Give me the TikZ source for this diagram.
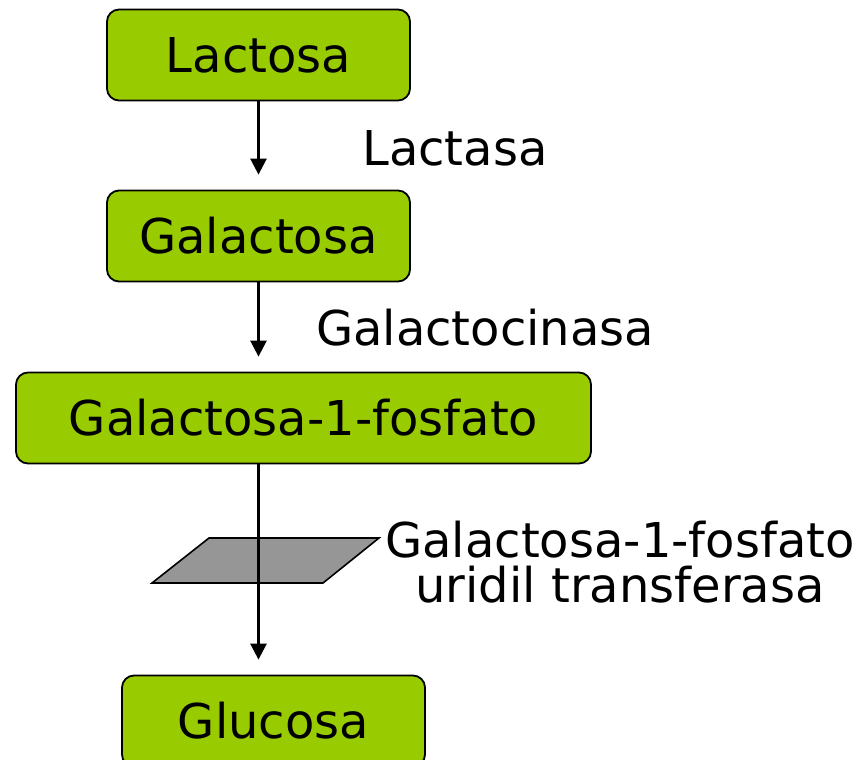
\documentclass[tikz,border=0pt]{standalone}
\usepackage{fontspec}
\setmainfont{DejaVu Sans}
\usepackage{tikz}
\usetikzlibrary{arrows.meta}
\definecolor{sugar}{HTML}{99CC00}
\definecolor{membrane}{HTML}{969696}

\begin{document}
\begin{tikzpicture}[x=0.5pt,y=-0.5pt,
  sugarbox/.style={rectangle,draw=black,line width=0.9pt,fill=sugar,rounded corners=6pt,
    minimum height=45.5pt,font=\fontsize{24}{22.5}\selectfont},
  enzyme/.style={font=\fontsize{24}{22.5}\selectfont,align=center},
  reaction/.style={-{Triangle[length=8pt,width=8pt]},line width=1.3pt,shorten >=7.5pt}]
\useasboundingbox (0,0) rectangle (863,760);
\node [sugarbox,minimum width=151.5pt] (lac) at (258.5,55) {Lactosa};
\node [sugarbox,minimum width=151.5pt] (gal) at (258.5,236) {Galactosa};
\node [sugarbox,minimum width=287.5pt] (g1p) at (303.5,418) {Galactosa-1-fosfato};
\node [sugarbox,minimum width=151.5pt] (glu) at (273.5,721) {Glucosa};
\node [enzyme] (lactasa) at (455,148) {Lactasa};
\node [enzyme] (cinasa) at (485,328) {Galactocinasa};
\node [enzyme] (transf) at (620,562) {Galactosa-1-fosfato\\uridil transferasa};
\draw [fill=membrane,line width=0.8pt] (209,538) -- (379,538) -- (323,583) -- (152,583) -- cycle;
\draw [reaction] (lac) -- (gal);
\draw [reaction] (gal) -- (gal |- g1p.north);
\draw [reaction] (gal |- g1p.south) -- (gal |- glu.north);
\end{tikzpicture}
\end{document}
